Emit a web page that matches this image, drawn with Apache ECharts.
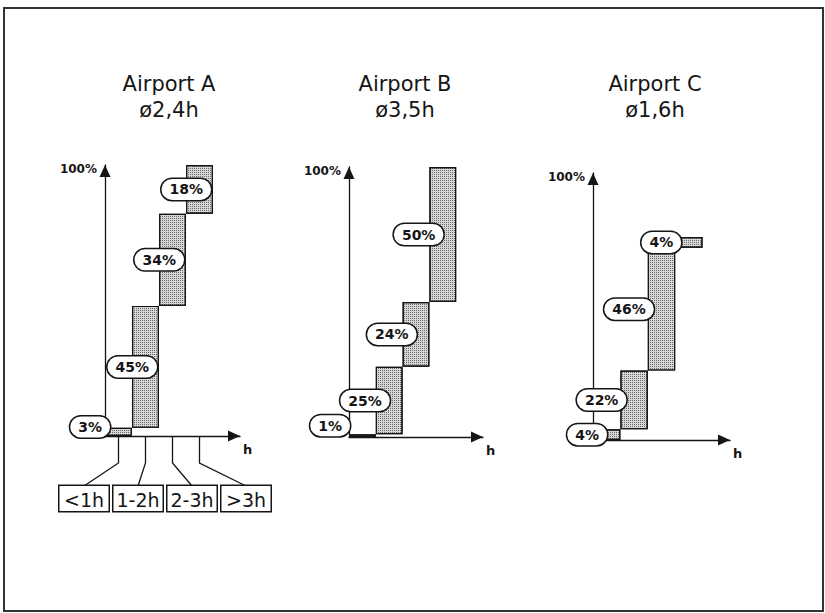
<!DOCTYPE html>
<html>
<head>
<meta charset="utf-8">
<script src="https://cdn.jsdelivr.net/npm/echarts@6/dist/echarts.min.js"></script>
<style>
html,body{margin:0;padding:0;background:#fff;}
#main{width:825px;height:613px;}
</style>
</head>
<body>
<div id="main"></div>
<script>
// ---- data ----
const categories = ['<1h', '1-2h', '2-3h', '>3h'];
const airports = ['Airport A', 'Airport B', 'Airport C'];
const averages = ['ø2,4h', 'ø3,5h', 'ø1,6h'];
const sharesA = [3, 45, 34, 18];
const sharesB = [1, 25, 24, 50];
const sharesC = [4, 22, 46, 4];
const yTickLabels = ['100%'];
const xAxisName = 'h';

const shares = [sharesA, sharesB, sharesC];

// ---- layout (pixels / styles) ----
const grids = [
  {left: 105, top: 165, width: 135, height: 271},
  {left: 349, top: 167, width: 134, height: 270},
  {left: 593, top: 173, width: 137, height: 267}
];
const titleX = [169, 405, 655];
const labelInset = [-25, -14, -6];
const firstInset = [-5, -1, -14];
const firstShiftY = [-5, -10, 0];
const FONT = '"DejaVu Sans", Verdana, sans-serif';
const INK = '#151515';

const chart = echarts.init(document.getElementById('main'), null, {renderer: 'svg'});

const gridOpt = grids.map(g => Object.assign({containLabel: false}, g));
gridOpt.push({left: 57, width: 216, top: 480, height: 6});

const arrowLine = {show: true, lineStyle: {color: INK, width: 1.3},
  symbol: ['none', 'triangle'], symbolSize: [11, 12], symbolOffset: [0, -6]};

const xAxes = [], yAxes = [], series = [];
grids.forEach((g, i) => {
  xAxes.push({
    type: 'category', gridIndex: i,
    data: categories.concat(['']),
    boundaryGap: true,
    axisLine: arrowLine,
    axisTick: {show: false}, axisLabel: {show: false},
    splitLine: {show: false},
    name: xAxisName, nameLocation: 'end', nameGap: 3,
    nameTextStyle: {fontFamily: FONT, fontSize: 13, fontWeight: 'bold', color: INK,
      verticalAlign: 'top', padding: [7, 0, 0, 0]}
  });
  yAxes.push({
    type: 'value', gridIndex: i, min: 0, max: 100, interval: 100,
    axisLine: arrowLine,
    axisTick: {show: false}, splitLine: {show: false},
    axisLabel: {show: true, margin: 8, fontFamily: FONT, fontSize: 12, fontWeight: 'bold', color: INK,
      verticalAlign: 'top', lineHeight: 8,
      formatter: v => (v === 100 ? yTickLabels[0] : '')}
  });
  const vals = shares[i];
  const base = [];
  let acc = 0;
  vals.forEach(v => { base.push(acc); acc += v; });
  series.push({
    type: 'bar', xAxisIndex: i, yAxisIndex: i, stack: 's' + i,
    data: base, barCategoryGap: '0%', silent: true,
    itemStyle: {color: 'rgba(0,0,0,0)'}
  });
  series.push({
    type: 'bar', xAxisIndex: i, yAxisIndex: i, stack: 's' + i,
    data: vals.map((v, k) => k === 0
      ? {value: v, label: {distance: firstInset[i], offset: [0, firstShiftY[i]]}}
      : v),
    barCategoryGap: '0%',
    itemStyle: {
      color: '#d6d6d6', borderColor: INK, borderWidth: 1.2,
      decal: {symbol: 'rect', symbolSize: 1, dashArrayX: [1, 1], dashArrayY: [1, 1], color: 'rgba(0,0,0,0.5)'}
    },
    label: {
      show: true, position: 'left', distance: labelInset[i],
      formatter: p => p.value + '%',
      fontFamily: FONT, fontSize: 14, fontWeight: 'bold', color: INK, lineHeight: 15,
      backgroundColor: '#fff', borderColor: INK, borderWidth: 1.5, borderRadius: 11,
      padding: [3, 8, 3, 8]
    },
    z: 3
  });
});
// bottom category boxes
xAxes.push({
  type: 'category', gridIndex: 3, data: categories, boundaryGap: true,
  axisLine: {show: false}, axisTick: {show: false}, splitLine: {show: false},
  axisLabel: {
    show: true, margin: 0, interval: 0, fontFamily: FONT, fontSize: 19, color: INK,
    width: 47, align: 'center', lineHeight: 21,
    padding: [3, 1, 1, 1], borderColor: INK, borderWidth: 1.5, backgroundColor: '#fff'
  }
});
yAxes.push({type: 'value', gridIndex: 3, show: false});

const titleGraphics = [];
airports.forEach((a, i) => {
  titleGraphics.push({type: 'text', x: titleX[i], y: 73, z: 10,
    style: {text: a, align: 'center', verticalAlign: 'top', font: '21px ' + FONT, fill: INK}});
  titleGraphics.push({type: 'text', x: titleX[i], y: 99, z: 10,
    style: {text: averages[i], align: 'center', verticalAlign: 'top', font: '21px ' + FONT, fill: INK}});
});
const frame = {type: 'rect', shape: {x: 4, y: 8, width: 819, height: 603},
  style: {fill: 'none', stroke: '#333', lineWidth: 2}, silent: true};

chart.setOption({
  animation: false,
  backgroundColor: '#fff',
  grid: gridOpt,
  xAxis: xAxes,
  yAxis: yAxes,
  series: series,
  graphic: [frame].concat(titleGraphics)
});

// leader lines from category positions of Airport A axis to the boxes
const axisY = chart.convertToPixel({yAxisIndex: 0}, 0);
const boxTop = 486;
const leaders = categories.map((c, k) => {
  const x0 = chart.convertToPixel({xAxisIndex: 0}, k);
  const x1 = chart.convertToPixel({xAxisIndex: 3}, k);
  return {type: 'polyline', silent: true,
    shape: {points: [[x0, axisY], [x0, axisY + 27], [x1, boxTop]]},
    style: {fill: 'none', stroke: INK, lineWidth: 1.3}};
});
chart.setOption({graphic: [frame].concat(titleGraphics).concat(leaders)});
</script>
</body>
</html>
